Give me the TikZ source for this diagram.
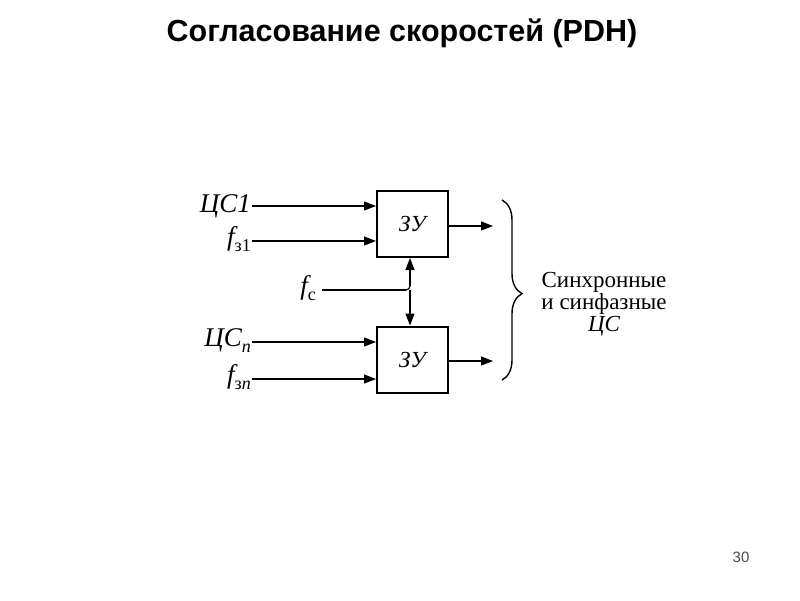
\documentclass[tikz,border=0pt]{standalone}
\usepackage{fontspec}
\setmainfont{Liberation Serif}
\newfontfamily\titlefont{Liberation Sans}
\usetikzlibrary{arrows.meta,decorations.pathreplacing,calc}
\newcommand{\mysub}[2]{#1\raisebox{-6pt}{\fontsize{18}{20}\selectfont #2}}
\begin{document}
\begin{tikzpicture}[x=1pt,y=-1pt,
  zubox/.style={draw,line width=2pt,minimum width=71pt,minimum height=66pt,inner sep=0pt,font=\fontsize{23}{25}\selectfont\itshape},
  sig/.style={line width=1.2pt,-{Triangle[length=12pt,width=9pt]}},
  lbl/.style={inner sep=0pt,anchor=east,font=\fontsize{27}{30}\selectfont\itshape},
  note/.style={inner sep=0pt,align=center,font=\fontsize{23}{22}\selectfont}]
\useasboundingbox (0,0) rectangle (800,600);
\node[font=\titlefont\bfseries\fontsize{30.5}{34}\selectfont,inner sep=0pt] (title) at (402,33) {Согласование скоростей (PDH)};
\node[zubox] (b1) at (412.5,224) {ЗУ};
\node[zubox] (b2) at (412.5,359.5) {ЗУ};
\node[lbl] (l1) at (251,206) {ЦС1};
\node[lbl] (l2) at (251,239) {\mysub{f}{\upshape з1}};
\node[lbl] (l3) at (251,341) {\mysub{ЦС}{n}};
\node[lbl] (l4) at (251,377) {\mysub{f}{\upshape з\itshape n}};
\node[lbl] (lc) at (316,288) {\mysub{f}{\upshape с}};
\coordinate (a1) at (252,206);
\coordinate (a2) at (252,241);
\coordinate (a3) at (252,342);
\coordinate (a4) at (252,379);
\draw[sig] (a1) -- (a1 -| b1.west);
\draw[sig] (a2) -- (a2 -| b1.west);
\draw[sig] (a3) -- (a3 -| b2.west);
\draw[sig] (a4) -- (a4 -| b2.west);
\coordinate (j) at (410,290);
\draw[line width=1.2pt] (322,290) coordinate (c0) -- ($(j)+(-4,0)$);
\draw[line width=1.2pt,rounded corners=4pt] ($(j)+(-6,0)$) -- (j) -- ($(j)+(0,-6)$);
\draw[sig] ($(j)+(0,-4)$) -- (j |- b1.south);
\draw[sig] (j) -- (j |- b2.north);
\coordinate (o1) at (493,226);
\coordinate (o2) at (493,361);
\draw[sig] (o1 -| b1.east) -- (o1);
\draw[sig] (o2 -| b2.east) -- (o2);
\draw[line width=1.4pt,decorate,decoration={brace,amplitude=20pt,aspect=0.52}] (502,200) -- (502,380) coordinate[pos=0.5] (br);
\node[note] (txt) at (604,304) {Синхронные\\и синфазные\\\itshape ЦС};
\node[font=\titlefont\fontsize{15}{17}\selectfont,text=black!70,inner sep=0pt] (pg) at (741,557) {30};
\end{tikzpicture}
\end{document}
